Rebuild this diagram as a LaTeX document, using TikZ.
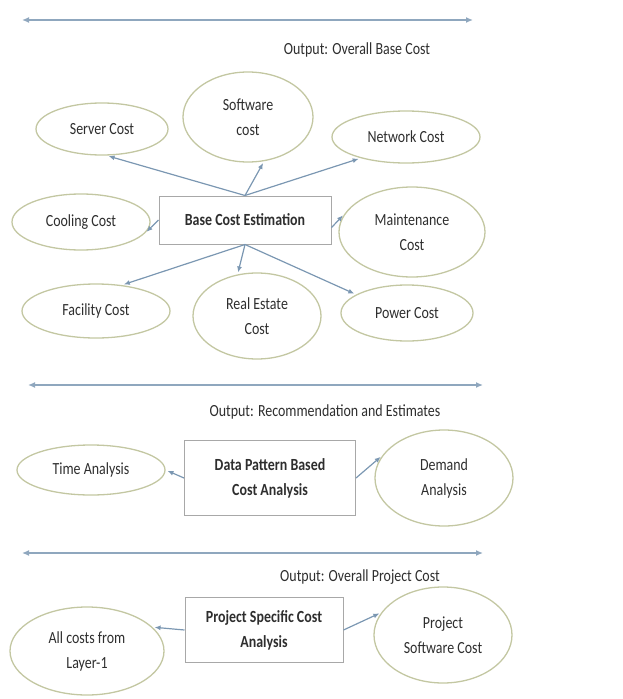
\documentclass[tikz,border=0pt]{standalone}
\usepackage{fontspec}
\setmainfont{Carlito}[FakeStretch=0.82]
\usepackage{tikz}
\usetikzlibrary{arrows.meta, shapes.geometric}
\definecolor{ovalline}{HTML}{C3C7A2}
\definecolor{linkblue}{HTML}{7B97B2}
\definecolor{boxline}{HTML}{A8A8A8}
\definecolor{txtgrey}{HTML}{2E2E2E}

\begin{document}
\begin{tikzpicture}[x=1pt, y=-1pt, font=\fontsize{17}{25}\selectfont, text=txtgrey,
  cost/.style={ellipse, draw=ovalline, line width=1.3pt, inner sep=0pt, align=center},
  stage/.style={draw=boxline, line width=1pt, inner sep=0pt, align=center, font=\fontsize{17}{25}\selectfont\bfseries},
  link/.style={draw=linkblue, line width=1.2pt, shorten >=2pt, -{Latex[length=6pt,width=5pt]}},
  layer/.style={draw=linkblue!85, line width=1.3pt, {Latex[length=7pt,width=6pt]}-{Latex[length=7pt,width=6pt]}}]
\useasboundingbox (0,0) rectangle (622,699);
% layer 1
\coordinate (l1w) at (22,20); \coordinate (l1e) at (473,20);
\draw[layer] (l1w) -- (l1e);
\node (out1) at (357,50) {Output: Overall Base Cost};
\node[stage, minimum width=172, minimum height=48] (base) at (245,220) {Base Cost Estimation};
\node[cost, minimum width=132, minimum height=52] (server) at (102,129) {Server Cost};
\node[cost, minimum width=130, minimum height=90] (software) at (248,117) {Software\\cost};
\node[cost, minimum width=148, minimum height=52] (network) at (406,137) {Network Cost};
\node[cost, minimum width=138, minimum height=56] (cooling) at (81,222) {Cooling Cost};
\node[cost, minimum width=146, minimum height=90] (maint) at (412,232) {Maintenance\\Cost};
\node[cost, minimum width=148, minimum height=54] (facility) at (96,311) {Facility Cost};
\node[cost, minimum width=128, minimum height=86] (estate) at (257,316) {Real Estate\\Cost};
\node[cost, minimum width=132, minimum height=56] (power) at (407,313) {Power Cost};
\draw[link] (base.north) -- (server.-80);
\draw[link] (base.north) -- (software.-70);
\draw[link] (base.north) -- (network.-155);
\draw[link] (base.west) -- (cooling.-10);
\draw[link] (base.355) -- (maint.165);
\draw[link] (base.south) -- (facility.45);
\draw[link] (base.south) -- (estate.115);
\draw[link] (base.south) -- (power.160);
% layer 2
\coordinate (l2w) at (28,385); \coordinate (l2e) at (483,385);
\draw[layer] (l2w) -- (l2e);
\node (out2) at (325,412) {Output: Recommendation and Estimates};
\node[stage, minimum width=171, minimum height=75] (pattern) at (270,478) {Data Pattern Based\\Cost Analysis};
\node[cost, minimum width=148, minimum height=50] (time) at (91,470) {Time Analysis};
\node[cost, minimum width=138, minimum height=96] (demand) at (444,478) {Demand\\Analysis};
\draw[link] (pattern.west) -- (time.east);
\draw[link] (pattern.east) -- (demand.160);
% layer 3
\coordinate (l3w) at (22,553); \coordinate (l3e) at (483,553);
\draw[layer] (l3w) -- (l3e);
\node (out3) at (360,577) {Output: Overall Project Cost};
\node[stage, minimum width=158, minimum height=65] (project) at (264,630) {Project Specific Cost\\Analysis};
\node[cost, minimum width=154, minimum height=88] (layerone) at (87,651) {All costs from\\Layer-1};
\node[cost, minimum width=138, minimum height=96] (projsw) at (443,635) {Project\\Software Cost};
\draw[link] (project.west) -- (layerone.20);
\draw[link] (project.east) -- (projsw.160);
\end{tikzpicture}
\end{document}
